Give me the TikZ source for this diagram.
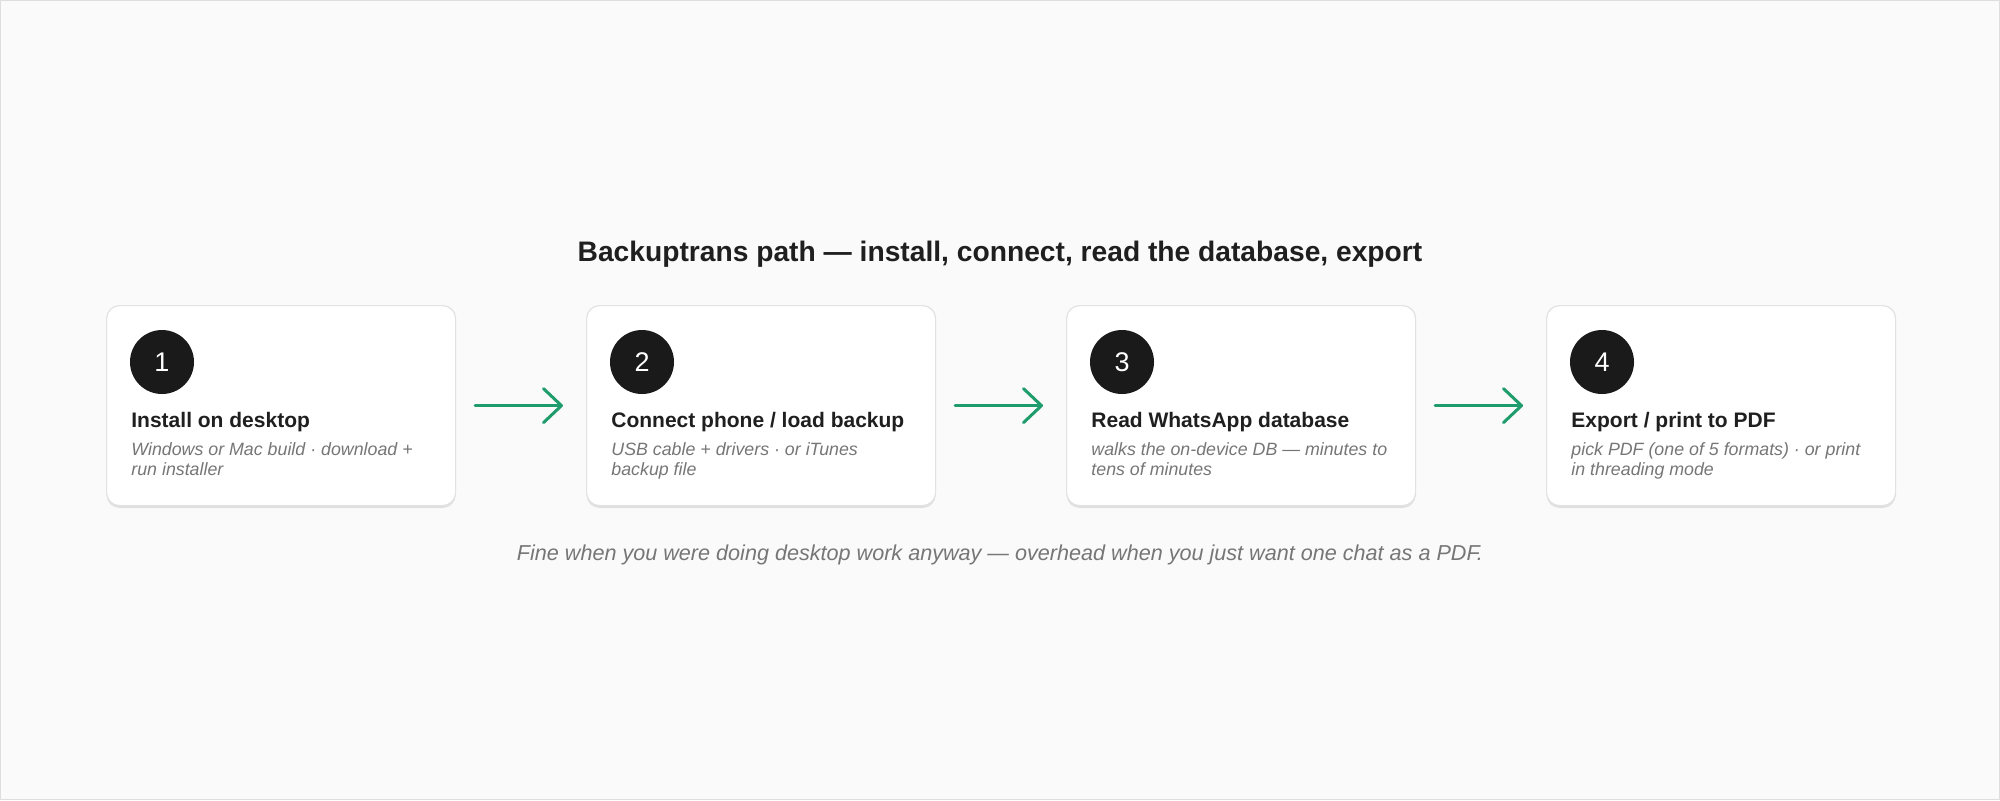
\documentclass[tikz,border=0pt]{standalone}
\usepackage{fontspec}
\setmainfont{Liberation Sans}
\usetikzlibrary{arrows.meta,shadows}
\definecolor{paper}{HTML}{FAFAFA}
\definecolor{frame}{HTML}{DEDEDE}
\definecolor{cardline}{HTML}{E2E2E2}
\definecolor{ink}{HTML}{1F1F1F}
\definecolor{muted}{HTML}{767676}
\definecolor{badgefill}{HTML}{1A1A1A}
\definecolor{flowgreen}{HTML}{1E9C6C}
\begin{document}
\begin{tikzpicture}[x=0.5pt,y=-0.5pt,
  card/.style={draw=cardline, fill=white, line width=0.6pt, rounded corners=6.5pt,
    minimum width=174.5pt, minimum height=100pt, anchor=north west, inner sep=0pt,
    drop shadow={shadow xshift=0pt, shadow yshift=-1.2pt, opacity=0.10, fill=black}},
  badge/.style={circle, fill=badgefill, text=white, minimum size=32pt, inner sep=0pt,
    font=\fontsize{13.5}{13.5}\selectfont},
  head/.style={anchor=base west, inner sep=0pt, text=ink, font=\bfseries\fontsize{10.5}{12}\selectfont},
  sub/.style={anchor=base west, inner sep=0pt, text=muted, align=left,
    font=\itshape\fontsize{8.9}{10}\selectfont},
  flow/.style={draw=flowgreen, line width=1.5pt, line cap=round, shorten <=9.5pt, shorten >=11.5pt,
    -{Straight Barb[length=9pt,width=17pt,line join=round,line cap=round]}}]
\path[fill=paper, draw=frame, line width=0.7pt] (0.7,0.7) rectangle (1999.3,799.3);
\useasboundingbox (0,0) rectangle (2000,800);
% title
\node[anchor=base, inner sep=0pt, text=ink, font=\bfseries\fontsize{14.1}{16}\selectfont] (title) at (1000,261)
  {Backuptrans path — install, connect, read the database, export};
% cards
\node[card] (c1) at (106,305) {};
\node[card] (c2) at (586,305) {};
\node[card] (c3) at (1066,305) {};
\node[card] (c4) at (1546,305) {};
\node[badge] (b1) at (162,362) {1};
\node[badge] (b2) at (642,362) {2};
\node[badge] (b3) at (1122,362) {3};
\node[badge] (b4) at (1602,362) {4};
\node[head] (h1) at (131,427) {Install on desktop};
\node[head] (h2) at (611,427) {Connect phone / load backup};
\node[head] (h3) at (1091,427) {Read WhatsApp database};
\node[head] (h4) at (1571,427) {Export / print to PDF};
% last baseline sits at 475
\node[sub] (s1) at (131,475) {Windows or Mac build · download +\\run installer};
\node[sub] (s2) at (611,475) {USB cable + drivers · or iTunes\\backup file};
\node[sub] (s3) at (1091,475) {walks the on-device DB — minutes to\\tens of minutes};
\node[sub] (s4) at (1571,475) {pick PDF (one of 5 formats) · or print\\in threading mode};
% arrows
\draw[flow] (c1.east) -- (c2.west);
\draw[flow] (c2.east) -- (c3.west);
\draw[flow] (c3.east) -- (c4.west);
% note
\node[anchor=base, inner sep=0pt, text=muted, font=\itshape\fontsize{10.8}{12}\selectfont] (note) at (1000,560)
  {Fine when you were doing desktop work anyway — overhead when you just want one chat as a PDF.};
\end{tikzpicture}
\end{document}
